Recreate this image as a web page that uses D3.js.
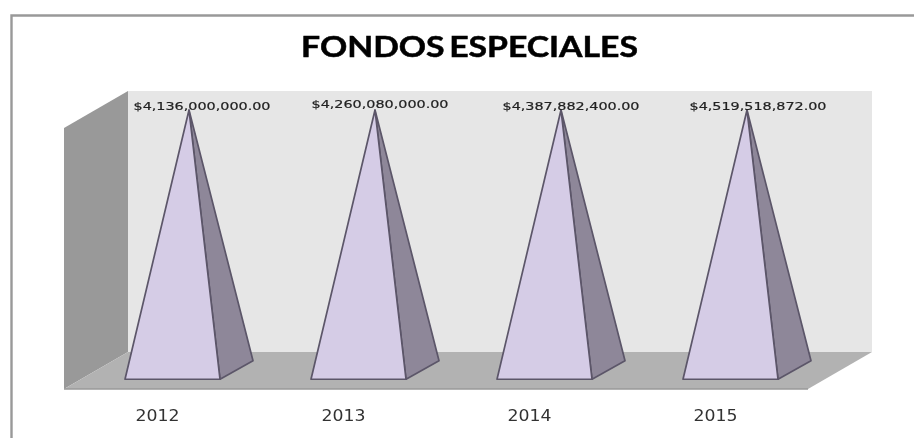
<!DOCTYPE html>
<html>
<head>
<meta charset="utf-8">
<title>Fondos especiales</title>
<script src="https://cdn.jsdelivr.net/npm/d3@7"></script>
<style>
  html, body { margin: 0; padding: 0; background: #fff; overflow: hidden; }
  svg { display: block; }
</style>
</head>
<body>
<script>
const YEARS = ['2012', '2013', '2014', '2015'];
const VALUES = [4136000000, 4260080000, 4387882400, 4519518872];

const W = 914, H = 438;

// 3D box of the chart: back wall plus the offset of the depth axis
const BOX = { left: 128, right: 872, top: 91, floor: 352 };
const DEPTH = { dx: -64, dy: 37 };
const PYR = { half: 47.5, dx: 16.5, dy: 9.25 }; // base half width, half of the base depth

const svg = d3.select('body').append('svg')
  .attr('width', W).attr('height', H)
  .attr('viewBox', `0 0 ${W} ${H}`);

// the scan is soft, everything is a little out of focus
svg.append('defs').append('filter').attr('id', 'soft')
  .append('feGaussianBlur').attr('stdDeviation', 0.45);

const root = svg.append('g').attr('filter', 'url(#soft)');

const x = d3.scalePoint().domain(YEARS).range([189, 747]);
// the pyramids all stop at the same height in the picture: the axis tops out at the first value
const y = d3.scaleLinear().domain([0, VALUES[0]]).range([370, 110]).clamp(true);

// outer frame, open on the right and at the bottom
root.append('path')
  .attr('d', `M11.5 ${H} V15.5 H${W}`)
  .attr('fill', 'none').attr('stroke', '#999').attr('stroke-width', 2.4);

const poly = d3.line();

// walls and floor
root.append('path')
  .attr('d', poly([[BOX.left, BOX.top], [BOX.right, BOX.top], [BOX.right, BOX.floor], [BOX.left, BOX.floor]]) + 'Z')
  .attr('fill', '#e6e6e6');
root.append('path')
  .attr('d', poly([[BOX.left, BOX.top], [BOX.left + DEPTH.dx, BOX.top + DEPTH.dy],
    [BOX.left + DEPTH.dx, BOX.floor + DEPTH.dy], [BOX.left, BOX.floor]]) + 'Z')
  .attr('fill', '#999999');
root.append('path')
  .attr('d', poly([[BOX.left, BOX.floor], [BOX.right, BOX.floor],
    [BOX.right + DEPTH.dx, BOX.floor + DEPTH.dy], [BOX.left + DEPTH.dx, BOX.floor + DEPTH.dy]]) + 'Z')
  .attr('fill', '#b2b2b2');
root.append('line')
  .attr('x1', BOX.left + DEPTH.dx).attr('x2', BOX.right + DEPTH.dx)
  .attr('y1', BOX.floor + DEPTH.dy).attr('y2', BOX.floor + DEPTH.dy)
  .attr('stroke', '#999').attr('stroke-width', 1.4);

// pyramids
const pyr = root.selectAll('g.pyr').data(VALUES).join('g').attr('class', 'pyr');

pyr.append('path')
  .attr('d', (d, i) => {
    const cx = x(YEARS[i]), y0 = y(0);
    const frontR = [cx + PYR.half - PYR.dx, y0 + PYR.dy];
    const backR = [cx + PYR.half + PYR.dx, y0 - PYR.dy];
    return poly([[cx, y(d)], frontR, backR]) + 'Z';
  })
  .attr('fill', '#8e8799').attr('stroke', '#5c5669').attr('stroke-width', 1.7)
  .attr('stroke-linejoin', 'round');

pyr.append('path')
  .attr('d', (d, i) => {
    const cx = x(YEARS[i]), y0 = y(0);
    const frontL = [cx - PYR.half - PYR.dx, y0 + PYR.dy];
    const frontR = [cx + PYR.half - PYR.dx, y0 + PYR.dy];
    return poly([[cx, y(d)], frontL, frontR]) + 'Z';
  })
  .attr('fill', '#d5cce6').attr('stroke', '#5c5669').attr('stroke-width', 1.7)
  .attr('stroke-linejoin', 'round');

// value labels sit a bit right of the apex, not by the same amount each
const LABEL_DX = [13, 5, 10, 11];
const LABEL_DY = [0, -2, 0, 0];
const money = d3.format('$,.2f');

root.selectAll('text.val').data(VALUES).join('text')
  .attr('class', 'val')
  .attr('x', (d, i) => x(YEARS[i]) + LABEL_DX[i])
  .attr('y', (d, i) => y(d) + LABEL_DY[i])
  .attr('text-anchor', 'middle')
  .attr('font-family', '"DejaVu Sans", sans-serif')
  .attr('font-size', 11)
  .attr('textLength', 137)
  .attr('lengthAdjust', 'spacingAndGlyphs')
  .attr('fill', '#222')
  .attr('stroke', '#222').attr('stroke-width', 0.2)
  .text(d => money(d));

// years, via a plain bottom axis without line or ticks
const xAxis = root.append('g')
  .attr('transform', `translate(-32,${BOX.floor + 58})`)
  .call(d3.axisBottom(x).tickSize(0).tickPadding(0));
xAxis.select('.domain').remove();
xAxis.selectAll('text')
  .attr('font-family', '"DejaVu Sans", sans-serif')
  .attr('font-size', 15)
  .attr('textLength', 44)
  .attr('lengthAdjust', 'spacingAndGlyphs')
  .attr('fill', '#333');

// title, the original is stretched sideways
root.append('text')
  .attr('x', 469.5).attr('y', 56.5)
  .attr('text-anchor', 'middle')
  .attr('font-family', 'Lato, sans-serif')
  .attr('font-weight', 700)
  .attr('font-size', 28)
  .attr('word-spacing', '-3px')
  .attr('textLength', 337)
  .attr('lengthAdjust', 'spacingAndGlyphs')
  .attr('fill', '#000')
  .attr('stroke', '#000').attr('stroke-width', 0.5)
  .text('FONDOS ESPECIALES');
</script>
</body>
</html>
